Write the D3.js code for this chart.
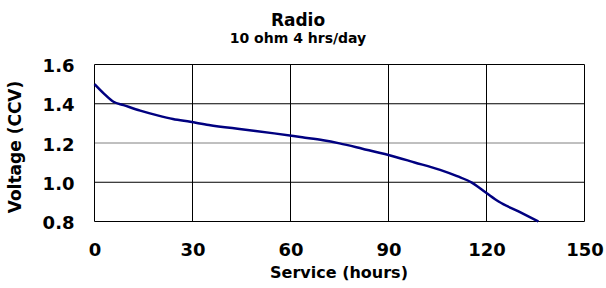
<!DOCTYPE html>
<html><head><meta charset="utf-8">
<script src="https://cdn.jsdelivr.net/npm/d3@7"></script>
<style>body{margin:0;background:#fff}svg{display:block}text{font-family:"DejaVu Sans",Verdana,sans-serif;font-weight:bold;fill:#000}</style>
</head><body>
<script>
const hours = [0, 2.8, 5.8, 8.9, 14, 19, 24, 29.3, 35, 45, 55, 63.6, 70, 75, 82, 90, 98, 105.8, 111, 115.5, 118, 120.1, 123.7, 129.8, 135.9];
const volts = [1.50, 1.453, 1.41, 1.393, 1.365, 1.342, 1.322, 1.308, 1.292, 1.27, 1.249, 1.229, 1.214, 1.198, 1.171, 1.139, 1.101, 1.063, 1.031, 0.998, 0.969, 0.944, 0.902, 0.851, 0.80];
const xTicks = [0, 30, 60, 90, 120, 150];
const yTicks = [0.8, 1.0, 1.2, 1.4, 1.6];
const title = "Radio";
const subtitle = "10 ohm 4 hrs/day";
const xTitle = "Service (hours)";
const yTitle = "Voltage (CCV)";

const W = 606, H = 288;
const svg = d3.select("body").append("svg").attr("width", W).attr("height", H);
const x = d3.scaleLinear().domain([0, 150]).range([94.5, 584.5]);
const y = d3.scaleLinear().domain([0.8, 1.6]).range([221.5, 64.5]);

// grid
svg.append("g").selectAll("line").data(yTicks).join("line")
  .attr("x1", x(0)).attr("x2", x(150)).attr("y1", d => y(d)).attr("y2", d => y(d))
  .attr("stroke", d => d === 1.2 ? "#808080" : "#000").attr("stroke-width", 1);
svg.append("g").selectAll("line").data(xTicks).join("line")
  .attr("x1", d => x(d)).attr("x2", d => x(d)).attr("y1", y(0.8)).attr("y2", y(1.6))
  .attr("stroke", "#000").attr("stroke-width", 1);

// axes labels
const xAxis = d3.axisBottom(x).tickValues(xTicks).tickSize(0).tickPadding(0).tickFormat(d3.format("d"));
const gx = svg.append("g").attr("transform", `translate(0,${y(0.8)})`).call(xAxis);
gx.select(".domain").remove();
gx.selectAll("text").attr("font-size", 18).attr("font-family", "DejaVu Sans").attr("font-weight", "bold").attr("dy", null).attr("y", 34);

const yAxis = d3.axisLeft(y).tickValues(yTicks).tickSize(0).tickPadding(20).tickFormat(d3.format(".1f"));
const gy = svg.append("g").attr("transform", `translate(${x(0)},0)`).call(yAxis);
gy.select(".domain").remove();
gy.selectAll("text").attr("font-size", 18).attr("font-family", "DejaVu Sans").attr("font-weight", "bold").attr("dy", "0.4em");

// line
const line = d3.line().x((d, i) => x(hours[i])).y(d => y(d)).curve(d3.curveMonotoneX);
svg.append("path").attr("d", line(volts)).attr("fill", "none").attr("stroke", "#000080").attr("stroke-width", 2.5);

// titles
svg.append("text").attr("x", 298).attr("y", 26).attr("text-anchor", "middle").attr("font-size", 17).text(title);
svg.append("text").attr("x", 298).attr("y", 43).attr("text-anchor", "middle").attr("font-size", 14).text(subtitle);
svg.append("text").attr("x", 339).attr("y", 278).attr("text-anchor", "middle").attr("font-size", 16).text(xTitle);
svg.append("text").attr("transform", "translate(21,147) rotate(-90)").attr("text-anchor", "middle").attr("font-size", 17).text(yTitle);
</script>
</body></html>
